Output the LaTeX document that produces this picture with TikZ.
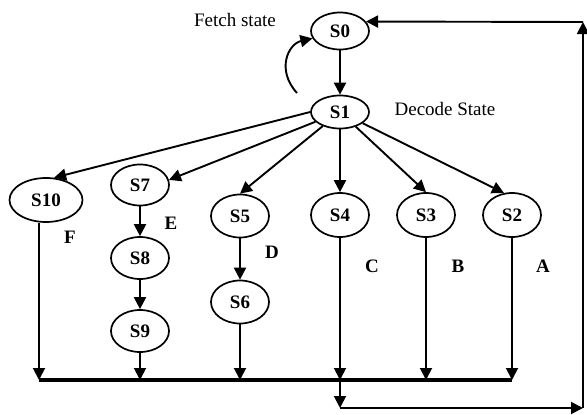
\documentclass[tikz,border=0pt]{standalone}
\usepackage{fontspec}
\setmainfont{Liberation Serif}
\usetikzlibrary{shapes,arrows.meta}
\tikzstyle{state} = [draw, ellipse, line width=1.7pt, minimum width=58pt, minimum height=42pt, inner sep=0pt, font=\fontsize{19}{22}\selectfont\bfseries]
\tikzstyle{invis} = [draw=none, font=\fontsize{19}{22}\selectfont]
\tikzstyle{tag} = [draw=none, font=\fontsize{19}{22}\selectfont\bfseries]
\tikzstyle{bus} = [-, line width=3.8pt]
\begin{document}
\begin{tikzpicture}[->,>={Triangle[length=12pt,width=12pt]},line width=1.9pt,x=1pt,y=-1pt]
\useasboundingbox (0,0) rectangle (587,415);

\node[state, minimum height=37pt] (S0) at (340,31) {S0};
\node[state, minimum height=33pt] (S1) at (340,112) {S1};
\node[state, minimum width=73pt, minimum height=44pt] (S10) at (46,200) {S10};
\node[state, minimum height=41pt] (S7) at (140,185) {S7};
\node[state] (S8) at (140,258) {S8};
\node[state] (S9) at (140,331) {S9};
\node[state, minimum height=43pt] (S5) at (240,216) {S5};
\node[state, minimum height=43pt] (S6) at (240,302) {S6};
\node[state, minimum height=44pt] (S4) at (340,215) {S4};
\node[state, minimum height=44pt] (S3) at (426,215) {S3};
\node[state, minimum height=44pt] (S2) at (512,215) {S2};

\node[invis] (fetch) at (235,20) {Fetch state};
\node[invis] (decode) at (445,109) {Decode State};
\node[tag] (lblF) at (70,237) {F};
\node[tag] (lblE) at (171,223) {E};
\node[tag] (lblD) at (272,252) {D};
\node[tag] (lblC) at (372,266) {C};
\node[tag] (lblB) at (458,266) {B};
\node[tag] (lblA) at (543,266) {A};

% bus and return path
\coordinate (bus10) at (39,380);
\coordinate (bus9) at (140,380);
\coordinate (bus6) at (240,380);
\coordinate (bus4) at (340,380);
\coordinate (bus3) at (426,380);
\coordinate (bus2) at (512,380);
\coordinate (ret1) at (340,408);
\coordinate (ret2) at (583,408);
\coordinate (ret3) at (583,22);
\coordinate (loop) at (297,93);

\path
(S0) edge node {} (S1)
(S1.west) edge node {} (S10.70)
(S1) edge node {} (S7.10)
(S1) edge node {} (S5.north)
(S1) edge node {} (S4)
(S1) edge node {} (S3.north)
(S1) edge node {} (S2.110)
(S7) edge node {} (S8)
(S8) edge node {} (S9)
(S5) edge node {} (S6);

\path
(S10.south -| bus10) edge node {} (bus10)
(S9) edge node {} (bus9)
(S6) edge node {} (bus6)
(S4) edge node {} (bus4)
(S3) edge node {} (bus3)
(S2) edge node {} (bus2);

\draw[bus] (bus10) -- (bus2);
\draw (bus4) -- (ret1);
\draw (ret1) -- (ret2);
\draw (ret2) -- (ret3);
\draw (ret3) -- (S0.20);
\draw (loop) .. controls (276,70) and (288,44) .. (S0.195);

\end{tikzpicture}
\end{document}
